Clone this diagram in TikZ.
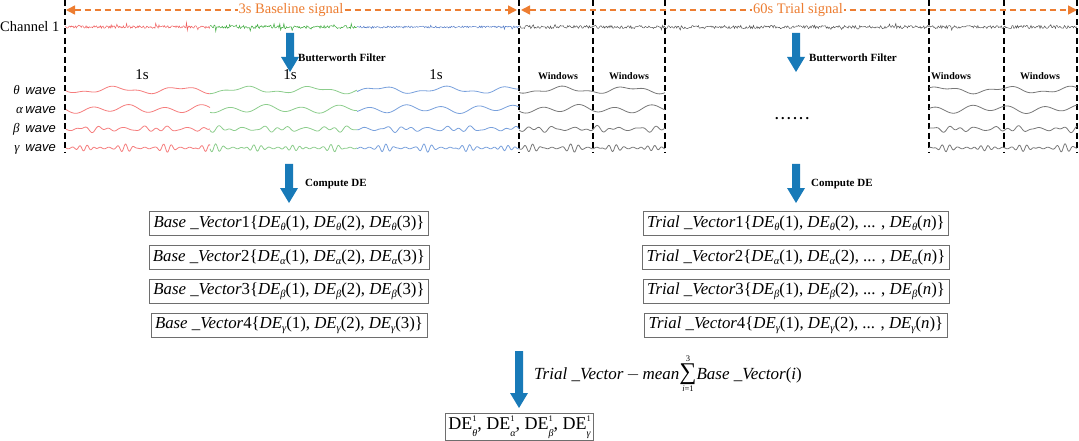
\documentclass[tikz,border=0pt]{standalone}
\usepackage{fontspec}
\setmainfont{Liberation Serif}
\setsansfont{Liberation Sans}
\usetikzlibrary{arrows.meta}
\definecolor{sigorange}{RGB}{237,125,49}
\definecolor{arrowblue}{RGB}{24,122,184}
\definecolor{cred}{RGB}{240,95,95}
\definecolor{cgreen}{RGB}{60,170,60}
\definecolor{cblue}{RGB}{85,125,200}
\definecolor{wred}{RGB}{245,125,125}
\definecolor{wgreen}{RGB}{140,205,140}
\definecolor{wblue}{RGB}{120,160,220}
\definecolor{cgray}{RGB}{85,85,85}
\definecolor{wgray}{RGB}{120,120,120}
\definecolor{boxgray}{RGB}{110,110,110}
\newcommand\dsub[1]{\raisebox{-0.35ex}{\fontsize{10.5}{10.5}\selectfont\itshape #1}}
\newcommand\dsupsub[1]{\makebox[0pt][l]{\raisebox{1.05ex}{\fontsize{8.5}{8.5}\selectfont 1}}\raisebox{-0.75ex}{\fontsize{10}{10}\selectfont\itshape #1}}
\newcommand\blockarrow[3]{%
  \fill[arrowblue] ({#1-4},#2) -- ({#1+4},#2) -- ({#1+4},{#3-15}) -- ({#1+9},{#3-15}) -- (#1,#3) -- ({#1-9},{#3-15}) -- ({#1-4},{#3-15}) -- cycle;}
\tikzset{
  vdash/.style={black, line width=1.4pt, dash pattern=on 6pt off 3.5pt},
  span/.style={sigorange, line width=1.5pt, dash pattern=on 6pt off 4pt, {Triangle[width=9pt,length=9pt]}-{Triangle[width=9pt,length=9pt]}},
  spanlabel/.style={fill=white, text=sigorange, inner sep=1pt, font=\fontsize{14.5}{16}\selectfont},
  boldlabel/.style={font=\bfseries\fontsize{11}{12}\selectfont, inner sep=0pt},
  winlabel/.style={font=\bfseries\fontsize{10}{12}\selectfont, inner sep=0pt},
  vecbox/.style={draw=boxgray, line width=0.8pt, inner xsep=4pt, inner ysep=2pt, minimum height=24pt, font=\fontsize{16.8}{18}\selectfont},
  wavelabel/.style={anchor=east, inner sep=0pt, font=\fontsize{13}{15}\selectfont},
  sig/.style={line width=0.5pt},
  wv/.style={line width=0.8pt},
}
\begin{document}
\begin{tikzpicture}[x=1pt,y=-1pt]
\pgfmathsetseed{11}
\useasboundingbox (0,0) rectangle (1079,441);

% vertical dashed dividers
\foreach \xx in {65,519,593,665,929,1004,1077}
  \draw[vdash] (\xx,0) -- (\xx,153);

% span arrows
\coordinate (bl) at (66,10); \coordinate (br) at (517,10);
\coordinate (tl) at (521,10); \coordinate (tr) at (1077,10);
\draw[span] (bl) -- (br);
\draw[span] (tl) -- (tr);
\node[spanlabel] (blab) at (291,10) {3s Baseline signal};
\node[spanlabel] (tlab) at (798,10) {60s Trial signal};

% channel
\node[anchor=west, inner sep=0pt, font=\fontsize{14.5}{16}\selectfont] (ch) at (0,27) {Channel 1};
\draw[sig,cred] plot[domain=65:210,samples=180] (\x,{27+1.3*rand+(rnd>0.92)*3.5*rand});
\draw[sig,cgreen] plot[domain=210:357,samples=180] (\x,{27+1.5*rand+(rnd>0.88)*4*rand});
\draw[sig,cblue] plot[domain=357:519,samples=190] (\x,{27+1.0*rand+(rnd>0.95)*4*rand});
\draw[sig,cgray] plot[domain=519:1077,samples=620] (\x,{27+1.6*rand+(rnd>0.9)*2.5*rand});

% Butterworth arrows
\blockarrow{290}{33}{72}
\node[boldlabel, anchor=west] (bw1) at (298,58) {Butterworth Filter};
\blockarrow{796}{33}{72}
\node[boldlabel, anchor=west] (bw2) at (809,58) {Butterworth Filter};

% 1s labels
\node[font=\fontsize{15}{17}\selectfont] (s1) at (142,75) {1s};
\node[font=\fontsize{15}{17}\selectfont] (s2) at (290,75) {1s};
\node[font=\fontsize{15}{17}\selectfont] (s3) at (436,75) {1s};

% Windows labels
\foreach \wx/\nm in {558/w1,629/w2,951/w3,1040/w4}
  \node[winlabel] (\nm) at (\wx,76) {Windows};

% wave labels
\node[wavelabel] (lt) at (56,90) {\textit{θ}\,\textsf{\textit{ wave}}};
\node[wavelabel] (la) at (56,110) {\textit{α}\,\textsf{\textit{wave}}};
\node[wavelabel] (lb) at (56,129) {\textit{β}\,\textsf{\textit{ wave}}};
\node[wavelabel] (lg) at (56,149) {\textit{γ}\,\textsf{\textit{ wave}}};

% waves
\foreach \a/\b/\c/\p in {66/210/wred/0,210/357/wgreen/70,357/519/wblue/140,519/665/wgray/30,929/1077/wgray/200}{
  \draw[wv,\c] plot[domain=0:{\b-\a},samples=150] ({\x+\a},{90+2.6*sin(5.5*\x+\p)+1.3*sin(13*\x+40+\p)});
  \draw[wv,\c] plot[domain=0:{\b-\a},samples=150] ({\x+\a},{109+3*sin(10*\x+\p)+1.5*sin(4.3*\x+20)});
  \draw[wv,\c] plot[domain=0:{\b-\a},samples=200] ({\x+\a},{129+1.5*sin(17*\x+10+\p)+2.2*sin(31*\x)*sin(3*\x+\p)*sin(3*\x+\p)});
  \draw[wv,\c] plot[domain=0:{\b-\a},samples=260] ({\x+\a},{148+0.8*sin(40*\x+\p)+3.5*sin(47*\x)*sin(4.5*\x+\p)*sin(4.5*\x+\p)*sin(4.5*\x+\p)*sin(4.5*\x+\p)});
}

% dots
\node[font=\bfseries\fontsize{14}{14}\selectfont] (dots) at (792,119) {.\hspace{2.6pt}.\hspace{2.6pt}.\hspace{2.6pt}.\hspace{2.6pt}.\hspace{2.6pt}.};

% compute DE arrows
\blockarrow{289}{164}{203}
\node[boldlabel, anchor=west] (cd1) at (305,184) {Compute DE};
\blockarrow{796}{164}{203}
\node[boldlabel, anchor=west] (cd2) at (811,184) {Compute DE};

% vector boxes
\node[vecbox] (b1) at (289,223.5) {\textit{Base \_Vector}1\{\textit{DE}\dsub{θ}(1), \textit{DE}\dsub{θ}(2), \textit{DE}\dsub{θ}(3)\}};
\node[vecbox] (b2) at (289,257.5) {\textit{Base \_Vector}2\{\textit{DE}\dsub{α}(1), \textit{DE}\dsub{α}(2), \textit{DE}\dsub{α}(3)\}};
\node[vecbox] (b3) at (289,291) {\textit{Base \_Vector}3\{\textit{DE}\dsub{β}(1), \textit{DE}\dsub{β}(2), \textit{DE}\dsub{β}(3)\}};
\node[vecbox] (b4) at (289,325) {\textit{Base \_Vector}4\{\textit{DE}\dsub{γ}(1), \textit{DE}\dsub{γ}(2), \textit{DE}\dsub{γ}(3)\}};

\node[vecbox] (t1) at (796,223.5) {\textit{Trial \_Vector}1\{\textit{DE}\dsub{θ}(1), \textit{DE}\dsub{θ}(2), ... , \textit{DE}\dsub{θ}(\textit{n})\}};
\node[vecbox] (t2) at (796,257.5) {\textit{Trial \_Vector}2\{\textit{DE}\dsub{α}(1), \textit{DE}\dsub{α}(2), ... , \textit{DE}\dsub{α}(\textit{n})\}};
\node[vecbox] (t3) at (796,291) {\textit{Trial \_Vector}3\{\textit{DE}\dsub{β}(1), \textit{DE}\dsub{β}(2), ... , \textit{DE}\dsub{β}(\textit{n})\}};
\node[vecbox] (t4) at (796,325) {\textit{Trial \_Vector}4\{\textit{DE}\dsub{γ}(1), \textit{DE}\dsub{γ}(2), ... , \textit{DE}\dsub{γ}(\textit{n})\}};

% final arrow and formula
\blockarrow{519}{351}{408}
\node[anchor=west, inner sep=0pt, font=\fontsize{17}{18}\selectfont] (form) at (534,374)
  {\textit{Trial \_Vector}\,$-$\,\textit{mean}$\mathop{\hbox{\fontsize{24}{24}\selectfont ∑}}\limits_{\hbox{\fontsize{8.5}{8.5}\selectfont\textit{i}=1}}^{\hbox{\fontsize{8.5}{8.5}\selectfont 3}}$\textit{Base \_Vector}(\textit{i})};
\node[vecbox, inner xsep=3pt, minimum height=26pt, font=\fontsize{18}{19}\selectfont] (fin) at (519.5,427) {DE\dsupsub{θ}, DE\dsupsub{α}, DE\dsupsub{β}, DE\dsupsub{γ}};
\end{tikzpicture}
\end{document}
